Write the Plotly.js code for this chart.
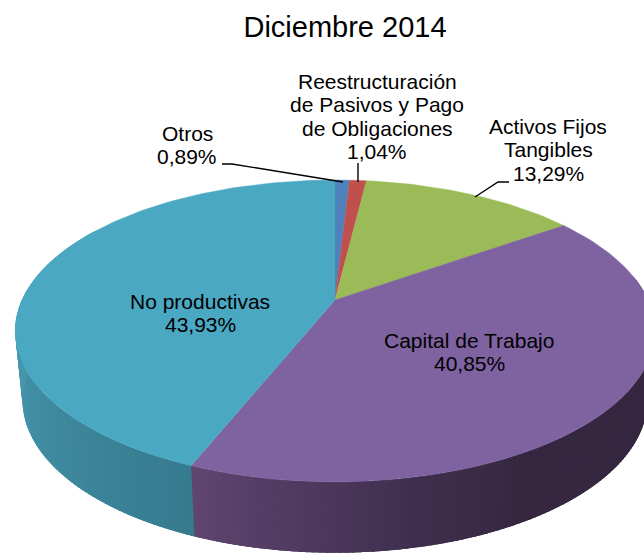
<!DOCTYPE html>
<html><head><meta charset="utf-8">
<script src="https://cdn.plot.ly/plotly-3.0.1.min.js"></script>
<style>html,body{margin:0;padding:0;background:#fff}#c{width:644px;height:554px}</style>
</head><body><div id="c"></div>
<script>
var categories = ["Otros","Reestructuración de Pasivos y Pago de Obligaciones","Activos Fijos Tangibles","Capital de Trabajo","No productivas"];
var values = [0.89,1.04,13.29,40.85,43.93];
var colors = ["#4f81bd","#c0504d","#9bbb59","#7f62a0","#4aa8c3"];
var labelLines = [["Otros","0,89%"],["Reestructuración","de Pasivos y Pago","de Obligaciones","1,04%"],["Activos Fijos","Tangibles","13,29%"],["Capital de Trabajo","40,85%"],["No productivas","43,93%"]];
var labelX = [187,377,548,469,200];
var labelTop = [133,81,126,340,301];
var lineGap = 23.5;
var leaderX = [[222,232,343],[358,358],[475,498,509]];
var leaderY = [[164,164,182],[163,182],[197,182,182]];
var sideStops = [[80,[53,39,64]],[150,[53,39,64]],[168,[63,47,78]],[201.9,[95,69,112]],[201.91,[54,122,142]],[258,[70,150,172]]];

// projected 3D pie geometry
var cx=335, cy=300, a=313, b=144.6, k=0.205, botA=0.977, botB=1.01, botDy=69;
function topPt(t){var r=t*Math.PI/180,u=Math.sin(r),v=Math.cos(r),w=1+k*v;return [cx+a*u/w,cy-b*v/w];}
function botPt(t){var r=t*Math.PI/180,u=Math.sin(r),v=Math.cos(r),w=1+k*v;return [cx+botA*a*u/w,cy+botDy-botB*b*v/w];}
function shade(t){
  for(var i=0;i<sideStops.length-1;i++){var s=sideStops[i],e=sideStops[i+1];
    if(t>=s[0]&&t<=e[0]){var f=(t-s[0])/(e[0]-s[0]);
      return "rgb("+[0,1,2].map(function(j){return Math.round(s[1][j]+f*(e[1][j]-s[1][j]));}).join(",")+")";}}
  return "rgb(70,150,172)";
}
var traces=[];
function addStrip(t,t2,col){
  var xs=[],ys=[];
  [topPt(t),topPt(t2),botPt(t2),botPt(t)].forEach(function(p){xs.push(p[0]);ys.push(p[1]);});
  xs.push(xs[0]);ys.push(ys[0]);
  traces.push({type:"scatter",mode:"lines",x:xs,y:ys,fill:"toself",fillcolor:col,line:{color:col,width:0},hoverinfo:"skip",showlegend:false});
}
// side wall: overlapping strips, painted in angle order so no seams show
var junction=(values[0]+values[1]+values[2]+values[3])/100*360;
var step=1;
for(var t=80;t<junction;t+=step){ addStrip(t,t+step+1.5,shade(Math.min(t+step/2,junction-0.001))); }
for(var t=junction;t<300;t+=step){ addStrip(t,t+step+1.5,shade(Math.max(t+step/2,junction+0.05))); }
// top face
var total=values.reduce(function(s,v){return s+v;},0), acc=0;
values.forEach(function(v,i){
  var t0=acc/total*360; acc+=v; var t1=acc/total*360;
  var xs=[cx],ys=[cy],n=Math.max(4,Math.ceil((t1-t0)/1.5));
  for(var j=0;j<=n;j++){var p=topPt(t0+(t1-t0)*j/n);xs.push(p[0]);ys.push(p[1]);}
  xs.push(cx);ys.push(cy);
  traces.push({type:"scatter",mode:"lines",name:categories[i],x:xs,y:ys,fill:"toself",fillcolor:colors[i],line:{color:colors[i],width:0.4},hoverinfo:"name",showlegend:false});
});
// leader lines
leaderX.forEach(function(lx,i){
  traces.push({type:"scatter",mode:"lines",x:lx,y:leaderY[i],line:{color:"#000",width:1.4},hoverinfo:"skip",showlegend:false});
});
var fontFam='"Liberation Sans", Arial, sans-serif';
var annotations=[];
labelLines.forEach(function(lines,i){
  lines.forEach(function(s,j){
    annotations.push({text:s,x:labelX[i],y:labelTop[i]+j*lineGap,xref:"x",yref:"y",showarrow:false,xanchor:"center",yanchor:"middle",align:"center",font:{family:fontFam,size:21,color:"#000"}});
  });
});
var hidden={visible:false,showgrid:false,zeroline:false,fixedrange:true};
var layout={
  width:644,height:554,margin:{l:0,r:0,t:0,b:0},
  paper_bgcolor:"#fff",plot_bgcolor:"#fff",showlegend:false,
  title:{text:"Diciembre 2014",x:345/644,xanchor:"center",y:1-27/554,yanchor:"middle",font:{family:fontFam,size:29,color:"#000"}},
  xaxis:Object.assign({range:[0,644]},hidden),
  yaxis:Object.assign({range:[554,0]},hidden),
  annotations:annotations
};
Plotly.newPlot("c",traces,layout,{displayModeBar:false,responsive:false});
</script></body></html>
